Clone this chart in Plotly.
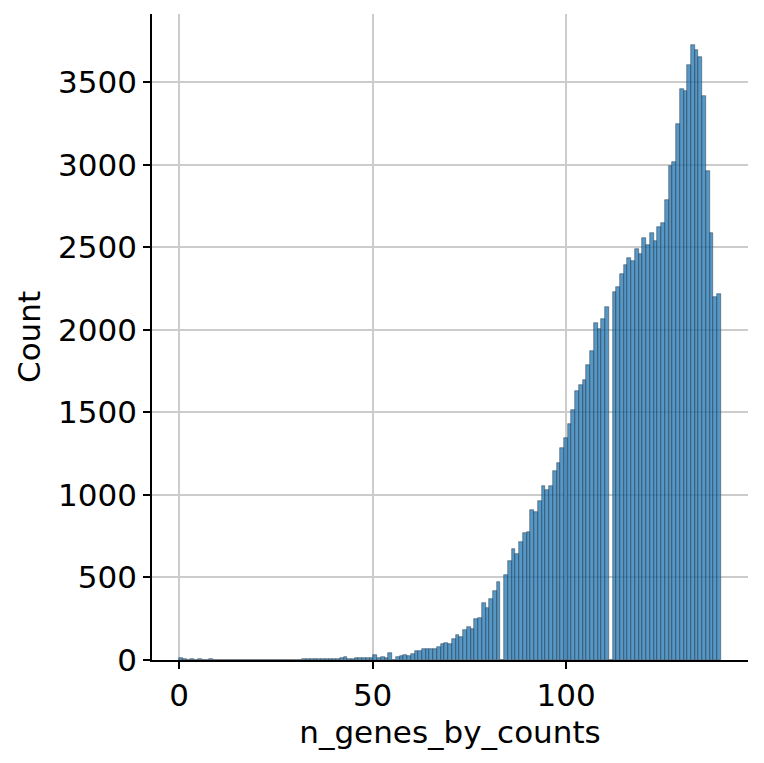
import numpy as np
import plotly.graph_objects as go

# Histogram of n_genes_by_counts: 145 bins spanning [0, 140]
bin_min = 0
bin_max = 140
n_bins = 145
counts = [
    15, 8, 0, 8, 0, 8, 0, 0, 6, 0,          # 0-9
    0, 0, 0, 0, 0, 0, 0, 0, 0, 0,           # 10-19
    0, 0, 0, 0, 2, 3, 2, 3, 0, 2,           # 20-29
    2, 2, 2, 8, 8, 8, 4, 8, 8, 8,           # 30-39
    8, 8, 8, 10, 16, 8, 8, 14, 14, 14,      # 40-49
    14, 12, 28, 14, 20, 14, 40, 0, 20, 26,  # 50-59
    32, 26, 38, 56, 52, 69, 69, 69, 69, 81,  # 60-69
    94, 106, 100, 128, 149, 141, 179, 197, 185, 250,  # 70-79
    257, 344, 318, 372, 420, 470, 0, 515, 600, 670,    # 80-89
    643, 715, 768, 776, 909, 897, 963, 1055, 1030, 1055,  # 90-99
    1148, 1191, 1283, 1344, 1431, 1514, 1630, 1669, 1695, 1785,  # 100-109
    1872, 2043, 2008, 2065, 2141, 0, 2229, 2261, 2341, 2392,     # 110-119
    2437, 2420, 2488, 2462, 2559, 2516, 2587, 2539, 2624, 2648,  # 120-129
    2787, 2995, 3015, 3248, 3460, 3448, 3605, 3728, 3698, 3653,  # 130-139
    3419, 2965, 2587, 2202, 2218,                                # 140-144
]
x_ticks = [0, 50, 100]
y_ticks = [0, 500, 1000, 1500, 2000, 2500, 3000, 3500]
x_label = "n_genes_by_counts"
y_label = "Count"

edges = np.linspace(bin_min, bin_max, n_bins + 1)
centers = (edges[:-1] + edges[1:]) / 2
width = edges[1] - edges[0]

fig = go.Figure(
    go.Bar(
        x=centers,
        y=counts,
        width=width,
        marker=dict(
            color="rgba(31,119,180,0.76)",
            line=dict(color="rgba(40,50,70,0.8)", width=0.6),
        ),
    )
)

span = bin_max - bin_min
ymax = max(counts) * 1.05
tick_font = dict(family="DejaVu Sans", size=31, color="black")
title_font = dict(family="DejaVu Sans", size=31, color="black")

# the page body has an 8px margin, so the figure is drawn 8px smaller
fig.update_layout(
    width=756,
    height=755,
    margin=dict(l=144, r=16, t=6, b=103, autoexpand=False),
    paper_bgcolor="white",
    plot_bgcolor="white",
    bargap=0,
    showlegend=False,
    font=tick_font,
    xaxis=dict(
        range=[bin_min - 0.05 * span, bin_max + 0.05 * span],
        tickvals=x_ticks,
        ticktext=[str(v) for v in x_ticks],
        tickfont=tick_font,
        showgrid=True,
        gridcolor="#cccccc",
        gridwidth=1.6,
        zeroline=False,
        showline=True,
        linecolor="black",
        linewidth=1.8,
        ticks="outside",
        ticklen=7,
        tickwidth=1.6,
        tickcolor="black",
        layer="above traces",
        automargin=False,
        title=dict(text=x_label, font=title_font, standoff=9),
    ),
    yaxis=dict(
        range=[0, ymax],
        tickvals=y_ticks,
        ticktext=[str(v) for v in y_ticks],
        tickfont=tick_font,
        showgrid=True,
        gridcolor="#cccccc",
        gridwidth=1.6,
        zeroline=False,
        showline=True,
        linecolor="black",
        linewidth=1.8,
        ticks="outside",
        ticklen=7,
        tickwidth=1.6,
        tickcolor="black",
        layer="above traces",
        automargin=False,
        title=dict(text=y_label, font=title_font, standoff=8),
    ),
)

fig.write_html("out.html")
